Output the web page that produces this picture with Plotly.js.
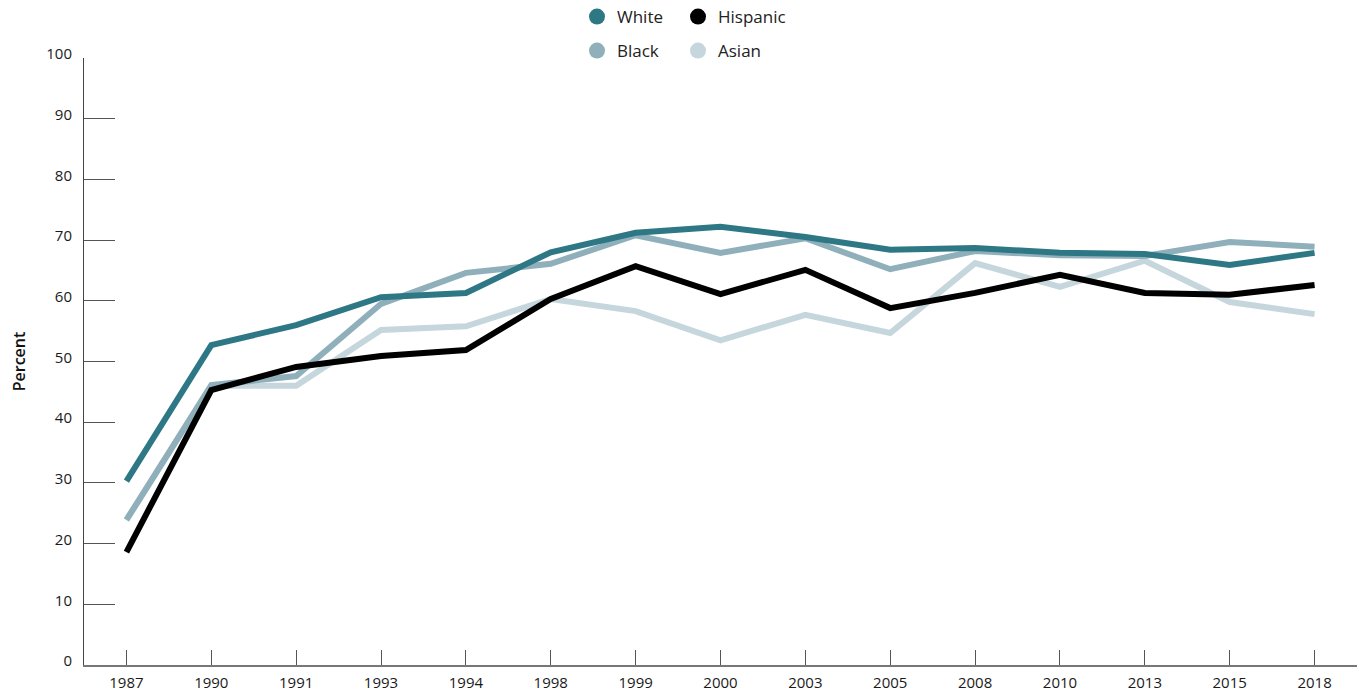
<!DOCTYPE html>
<html>
<head>
<meta charset="utf-8">
<script src="https://cdn.plot.ly/plotly-3.0.1.min.js"></script>
<style>html,body{margin:0;padding:0;background:#fff;}#chart{width:1363px;height:694px;}</style>
</head>
<body>
<div id="chart"></div>
<script>
const years = ["1987","1990","1991","1993","1994","1998","1999","2000","2003","2005","2008","2010","2013","2015","2018"];
const white    = [30.3, 52.7, 56.0, 60.6, 61.3, 68.0, 71.2, 72.2, 70.5, 68.4, 68.7, 67.9, 67.7, 65.9, 67.9];
const black    = [23.9, 46.1, 47.6, 59.5, 64.6, 66.1, 70.8, 67.9, 70.3, 65.2, 68.2, 67.5, 67.4, 69.7, 68.9];
const hispanic = [18.6, 45.3, 49.1, 50.9, 51.9, 60.3, 65.7, 61.1, 65.1, 58.8, 61.3, 64.3, 61.3, 61.0, 62.6];
const asian    = [23.9, 46.0, 46.0, 55.2, 55.8, 60.3, 58.3, 53.5, 57.7, 54.7, 66.2, 62.3, 66.6, 59.8, 57.8];
const seriesNames = ["White", "Black", "Hispanic", "Asian"];

const colors = {White:"#2e7785", Black:"#8fb0bb", Hispanic:"#000000", Asian:"#c6d6dd"};
const font = "Open Sans, Noto Sans, sans-serif";

function lineTrace(name, ys){
  return {x: years, y: ys, name: name, type: "scatter", mode: "lines",
    line: {color: colors[name], width: 6}, showlegend: false, hoverinfo: "x+y+name"};
}
function legendTrace(name, legendId){
  return {x: [null], y: [null], name: name, type: "scatter", mode: "markers",
    marker: {color: colors[name], size: 18, symbol: "circle"}, legend: legendId, showlegend: true};
}

const data = [
  lineTrace("Asian", asian),
  lineTrace("Black", black),
  lineTrace("Hispanic", hispanic),
  lineTrace("White", white),
  legendTrace("White", "legend"),
  legendTrace("Hispanic", "legend2"),
  legendTrace("Black", "legend3"),
  legendTrace("Asian", "legend4")
];

const legendCommon = {
  orientation: "h", xref: "container", yref: "container", xanchor: "left", yanchor: "middle",
  font: {family: font, size: 17, color: "#222"},
  itemsizing: "trace", bgcolor: "rgba(0,0,0,0)", tracegroupgap: 0, itemwidth: 30
};
function legendAt(px, py){
  return Object.assign({}, legendCommon, {x: px/1363, y: 1 - py/694});
}

const layout = {
  width: 1363, height: 694,
  paper_bgcolor: "#fff", plot_bgcolor: "#fff",
  margin: {l: 84, r: 6, t: 58, b: 29, pad: 0, autoexpand: false},
  font: {family: font, size: 15, color: "#222"},
  xaxis: {
    type: "category", range: [-0.5, 14.5], showgrid: false, zeroline: false,
    showline: true, linecolor: "#777", linewidth: 1.5,
    ticks: "inside", ticklen: 15, tickcolor: "#555", tickwidth: 1,
    ticklabelstandoff: 3,
    tickfont: {family: font, size: 15, color: "#1a1a1a"}
  },
  yaxis: {
    range: [0, 100], dtick: 10, showgrid: false, zeroline: false,
    showline: true, linecolor: "#444", linewidth: 1,
    ticks: "inside", ticklen: 31, tickcolor: "#555", tickwidth: 1,
    ticklabelstandoff: 8, ticklabelshift: -4,
    tickfont: {family: font, size: 15, color: "#1a1a1a"},
    title: {text: "Percent", font: {family: font, size: 16, color: "#111", weight: 600}, standoff: 16}
  },
  legend: legendAt(577, 17),
  legend2: legendAt(678, 17),
  legend3: legendAt(577, 51),
  legend4: legendAt(678, 51),
  showlegend: true
};

Plotly.newPlot("chart", data, layout, {displayModeBar: false, staticPlot: true});
</script>
</body>
</html>
